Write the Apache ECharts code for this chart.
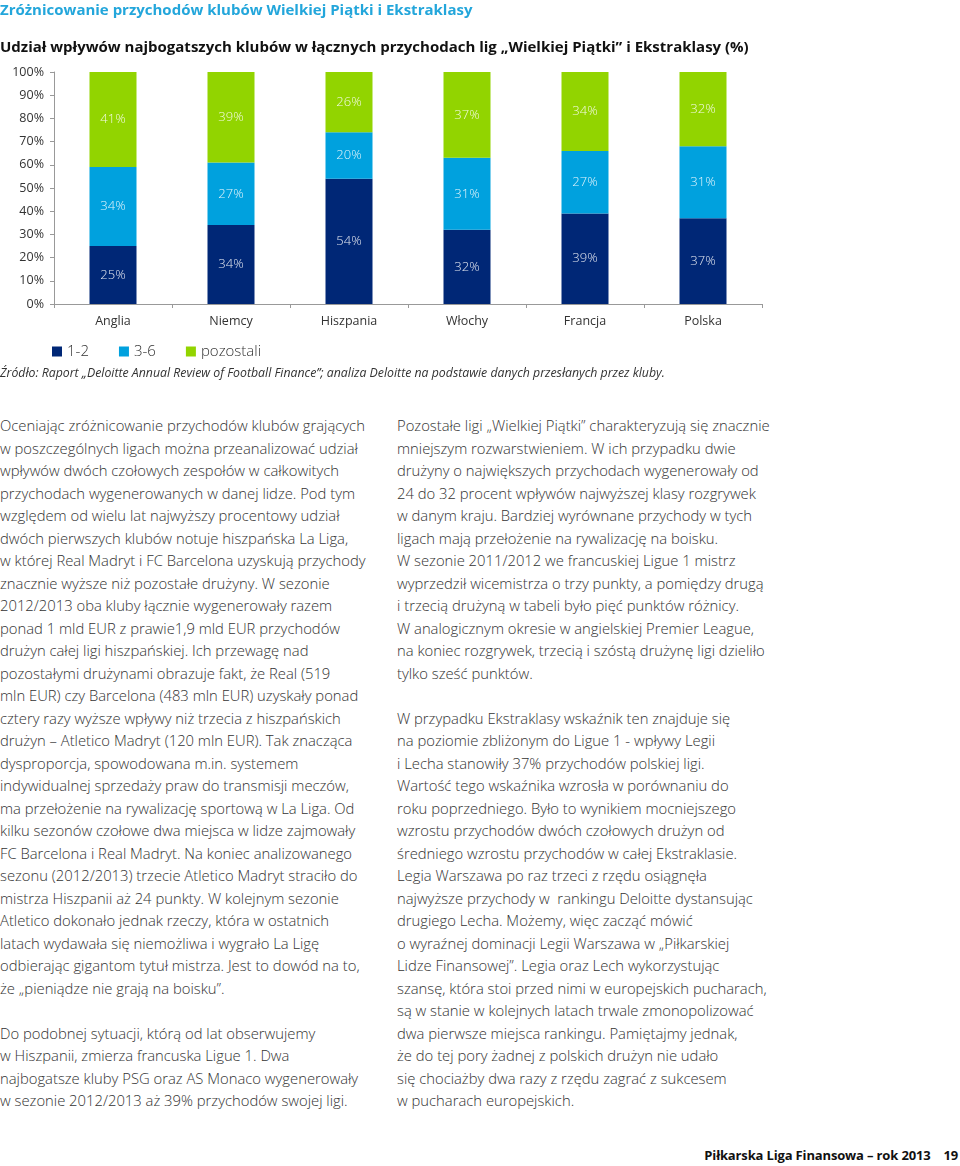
<!DOCTYPE html>
<html lang="pl">
<head>
<meta charset="utf-8">
<script src="https://cdn.jsdelivr.net/npm/echarts@6/dist/echarts.min.js"></script>
<style>
  html, body { margin: 0; padding: 0; background: #fff; }
  body { width: 960px; height: 1166px; position: relative; overflow: hidden; font-family: "Open Sans", "Noto Sans", sans-serif; }
  #chart { position: absolute; left: 0; top: 0; width: 960px; height: 400px; }
  .abs { position: absolute; white-space: nowrap; }
  #title { left: 0; top: 0; font-size: 15px; font-weight: bold; color: #23A6DB; line-height: 18px; }
  #subtitle { left: 0; top: 37px; font-size: 15px; font-weight: bold; color: #111; line-height: 18px; }
  #source { left: 0; top: 365px; font-size: 12.3px; font-style: italic; color: #333; line-height: 16px; font-family: "Liberation Sans Narrow", "Open Sans", sans-serif; }
  .col { position: absolute; top: 414px; font-size: 14.8px; font-weight: 300; color: #333; line-height: 22.53px; }
  .col div { white-space: nowrap; height: 22.53px; }
  #left { left: 0; }
  #right { left: 397px; }
  #footer { right: 2px; top: 1146px; font-size: 13px; letter-spacing: -0.15px; font-weight: bold; color: #111; line-height: 18px; }
</style>
</head>
<body>
<div id="chart"></div>
<div id="title" class="abs">Zróżnicowanie przychodów klubów Wielkiej Piątki i Ekstraklasy</div>
<div id="subtitle" class="abs">Udział wpływów najbogatszych klubów w łącznych przychodach lig „Wielkiej Piątki” i Ekstraklasy (%)</div>
<div id="source" class="abs">Źródło: Raport „Deloitte Annual Review of Football Finance”; analiza Deloitte na podstawie danych przesłanych przez kluby.</div>
<div id="left" class="col">
<div>Oceniając zróżnicowanie przychodów klubów grających</div>
<div>w poszczególnych ligach można przeanalizować udział</div>
<div>wpływów dwóch czołowych zespołów w całkowitych</div>
<div>przychodach wygenerowanych w danej lidze. Pod tym</div>
<div>względem od wielu lat najwyższy procentowy udział</div>
<div>dwóch pierwszych klubów notuje hiszpańska La Liga,</div>
<div>w której Real Madryt i FC Barcelona uzyskują przychody</div>
<div>znacznie wyższe niż pozostałe drużyny. W sezonie</div>
<div>2012/2013 oba kluby łącznie wygenerowały razem</div>
<div>ponad 1 mld EUR z prawie1,9 mld EUR przychodów</div>
<div>drużyn całej ligi hiszpańskiej. Ich przewagę nad</div>
<div>pozostałymi drużynami obrazuje fakt, że Real (519</div>
<div>mln EUR) czy Barcelona (483 mln EUR) uzyskały ponad</div>
<div>cztery razy wyższe wpływy niż trzecia z hiszpańskich</div>
<div>drużyn – Atletico Madryt (120 mln EUR). Tak znacząca</div>
<div>dysproporcja, spowodowana m.in. systemem</div>
<div>indywidualnej sprzedaży praw do transmisji meczów,</div>
<div>ma przełożenie na rywalizację sportową w La Liga. Od</div>
<div>kilku sezonów czołowe dwa miejsca w lidze zajmowały</div>
<div>FC Barcelona i Real Madryt. Na koniec analizowanego</div>
<div>sezonu (2012/2013) trzecie Atletico Madryt straciło do</div>
<div>mistrza Hiszpanii aż 24 punkty. W kolejnym sezonie</div>
<div>Atletico dokonało jednak rzeczy, która w ostatnich</div>
<div>latach wydawała się niemożliwa i wygrało La Ligę</div>
<div>odbierając gigantom tytuł mistrza. Jest to dowód na to,</div>
<div>że „pieniądze nie grają na boisku”.</div>
<div></div>
<div>Do podobnej sytuacji, którą od lat obserwujemy</div>
<div>w Hiszpanii, zmierza francuska Ligue 1. Dwa</div>
<div>najbogatsze kluby PSG oraz AS Monaco wygenerowały</div>
<div>w sezonie 2012/2013 aż 39% przychodów swojej ligi.</div>
</div>
<div id="right" class="col">
<div>Pozostałe ligi „Wielkiej Piątki” charakteryzują się znacznie</div>
<div>mniejszym rozwarstwieniem. W ich przypadku dwie</div>
<div>drużyny o największych przychodach wygenerowały od</div>
<div>24 do 32 procent wpływów najwyższej klasy rozgrywek</div>
<div>w danym kraju. Bardziej wyrównane przychody w tych</div>
<div>ligach mają przełożenie na rywalizację na boisku.</div>
<div>W sezonie 2011/2012 we francuskiej Ligue 1 mistrz</div>
<div>wyprzedził wicemistrza o trzy punkty, a pomiędzy drugą</div>
<div>i trzecią drużyną w tabeli było pięć punktów różnicy.</div>
<div>W analogicznym okresie w angielskiej Premier League,</div>
<div>na koniec rozgrywek, trzecią i szóstą drużynę ligi dzieliło</div>
<div>tylko sześć punktów.</div>
<div></div>
<div>W przypadku Ekstraklasy wskaźnik ten znajduje się</div>
<div>na poziomie zbliżonym do Ligue 1 - wpływy Legii</div>
<div>i Lecha stanowiły 37% przychodów polskiej ligi.</div>
<div>Wartość tego wskaźnika wzrosła w porównaniu do</div>
<div>roku poprzedniego. Było to wynikiem mocniejszego</div>
<div>wzrostu przychodów dwóch czołowych drużyn od</div>
<div>średniego wzrostu przychodów w całej Ekstraklasie.</div>
<div>Legia Warszawa po raz trzeci z rzędu osiągnęła</div>
<div>najwyższe przychody w&nbsp; rankingu Deloitte dystansując</div>
<div>drugiego Lecha. Możemy, więc zacząć mówić</div>
<div>o wyraźnej dominacji Legii Warszawa w „Piłkarskiej</div>
<div>Lidze Finansowej”. Legia oraz Lech wykorzystując</div>
<div>szansę, która stoi przed nimi w europejskich pucharach,</div>
<div>są w stanie w kolejnych latach trwale zmonopolizować</div>
<div>dwa pierwsze miejsca rankingu. Pamiętajmy jednak,</div>
<div>że do tej pory żadnej z polskich drużyn nie udało</div>
<div>się chociażby dwa razy z rzędu zagrać z sukcesem</div>
<div>w pucharach europejskich.</div>
</div>
<div id="footer" class="abs">Piłkarska Liga Finansowa – rok 2013&nbsp;&nbsp;&nbsp;&nbsp;19</div>
<script>
const categories = ['Anglia', 'Niemcy', 'Hiszpania', 'Włochy', 'Francja', 'Polska'];
const seriesNames = ['1-2', '3-6', 'pozostali'];
const top2Share = [25, 34, 54, 32, 39, 37];
const next4Share = [34, 27, 20, 31, 27, 31];
const restShare = [41, 39, 26, 37, 34, 32];
const yTicks = [0, 10, 20, 30, 40, 50, 60, 70, 80, 90, 100];

const colors = ['#002776', '#00A1DE', '#92D400'];
const values = [top2Share, next4Share, restShare];
const fontFam = '"Open Sans", "Noto Sans", sans-serif';

const chart = echarts.init(document.getElementById('chart'), null, { renderer: 'canvas' });
chart.setOption({
  animation: false,
  textStyle: { fontFamily: fontFam },
  grid: { left: 54, right: 198, top: 72, bottom: 96, containLabel: false },
  legend: {
    data: seriesNames,
    left: 47, top: 339,
    icon: 'rect', itemWidth: 10, itemHeight: 10, itemGap: 30,
    textStyle: { fontSize: 15, color: '#333', fontFamily: fontFam, fontWeight: 300 }
  },
  xAxis: {
    type: 'category',
    data: categories,
    axisLine: { lineStyle: { color: '#999', width: 1 } },
    axisTick: { show: true, length: 4, lineStyle: { color: '#999' } },
    axisLabel: { fontSize: 12.5, color: '#333', margin: 11, fontFamily: fontFam }
  },
  yAxis: {
    type: 'value',
    min: yTicks[0], max: yTicks[yTicks.length - 1], interval: 10,
    splitLine: { show: false },
    axisLine: { show: true, lineStyle: { color: '#999', width: 1 } },
    axisTick: { show: true, length: 4, lineStyle: { color: '#999' } },
    axisLabel: { fontSize: 12.5, color: '#333', margin: 10, formatter: '{value}%', fontFamily: fontFam }
  },
  series: seriesNames.map((name, i) => ({
    name: name,
    type: 'bar',
    stack: 'total',
    barWidth: 47,
    data: values[i],
    itemStyle: { color: colors[i] },
    label: {
      show: true, position: 'inside',
      formatter: '{c}%',
      color: 'rgba(255,255,255,0.88)',
      fontSize: 13, fontFamily: fontFam, fontWeight: 300
    }
  }))
});
</script>
</body>
</html>
